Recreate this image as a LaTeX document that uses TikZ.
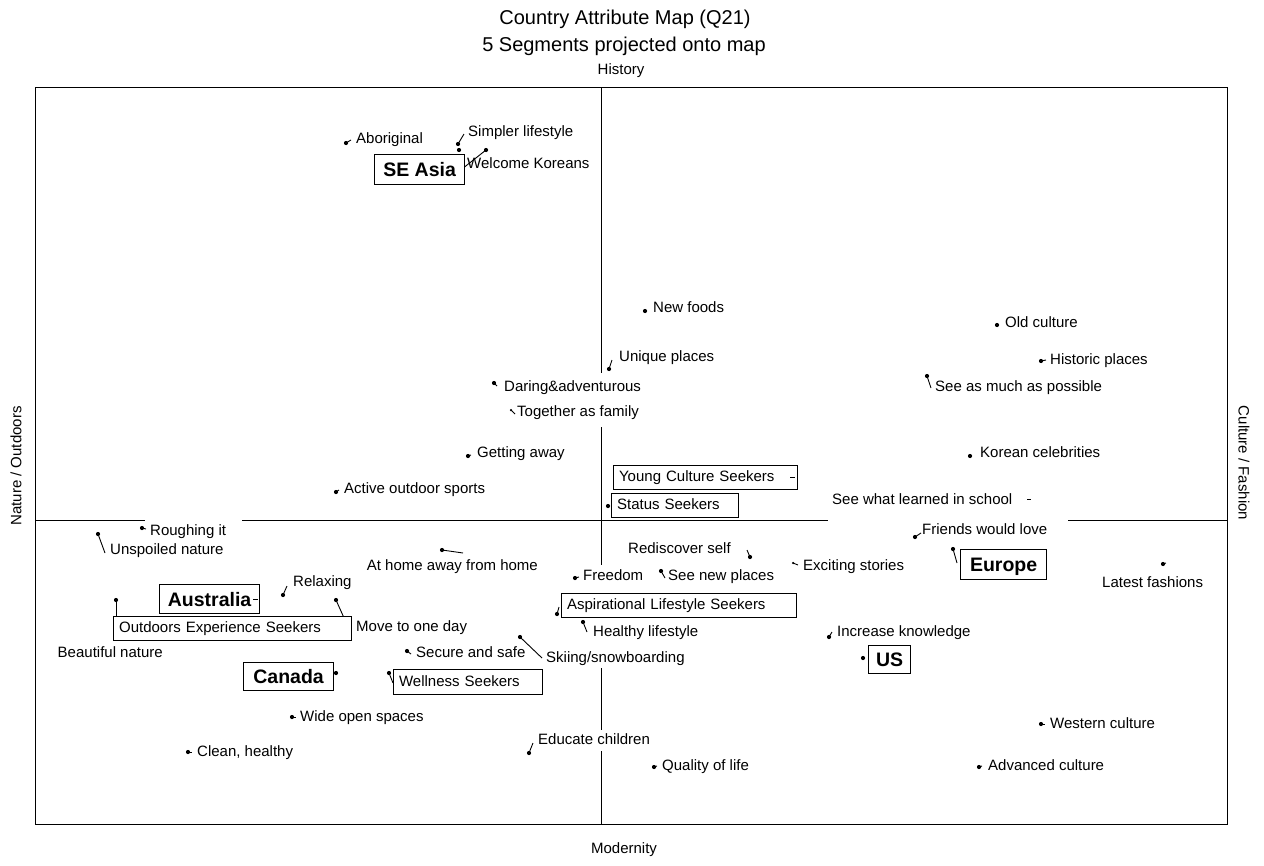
\documentclass[tikz,border=0pt]{standalone}
\usepackage{fontspec}
\setmainfont{Liberation Sans}
\begin{document}
\begin{tikzpicture}[x=1pt,y=-1pt,
  lab/.style={font=\fontsize{15}{18}\selectfont, inner sep=0pt, text height=11pt, text depth=3pt, anchor=west},
  labe/.style={lab, anchor=east},
  axlab/.style={font=\fontsize{15}{18}\selectfont, inner sep=0pt},
  titl/.style={font=\fontsize{20}{24}\selectfont, inner sep=0pt},
  dotmark/.style={circle, fill=black, inner sep=0pt, minimum size=4.2pt},
  smalldot/.style={circle, fill=black, inner sep=0pt, minimum size=2.5pt},
  leader/.style={line width=0.9pt},
  axisline/.style={line width=0.9pt},
  segbox/.style={draw, line width=1.2pt, fill=white, font=\fontsize{15}{18}\selectfont, anchor=north west, inner ysep=0pt, inner xsep=5.5pt, align=left, text height=11pt, text depth=3pt, minimum height=24pt},
  ctrybox/.style={draw, line width=1.2pt, fill=white, font=\bfseries\fontsize{19.5}{22}\selectfont, anchor=north west, inner sep=0pt, align=center, text height=14pt, text depth=0pt}
]
\useasboundingbox (0,0) rectangle (1264,865);

% titles and axis labels
\node[titl] (t1) at (625,19) {Country Attribute Map (Q21)};
\node[titl] (t2) at (624,46) {5 Segments projected onto map};
\node[axlab] (hist) at (621,71) {History};
\node[axlab] (mod) at (624,850) {Modernity};
\node[axlab, rotate=90] (nat) at (16,466) {Nature / Outdoors};
\node[axlab, rotate=-90] (cul) at (1244,463) {Culture / Fashion};

% frame and axes
\draw[line width=1pt] (35,87) rectangle (1227,824);
\draw[axisline] (35,520) -- (145,520);
\draw[axisline] (242,520) -- (828,520);
\draw[axisline] (1068,520) -- (1227,520);
\draw[axisline] (601,87) -- (601,373);
\draw[axisline] (601,427) -- (601,565);
\draw[axisline] (601,668) -- (601,730);
\draw[axisline] (601,751) -- (601,824);

% dots
\node[dotmark] (dAbo) at (346,143) {};
\node[dotmark] (dSim) at (458,144) {};
\node[dotmark] (dSEA) at (459,150) {};
\node[dotmark] (dWel) at (486,150) {};
\node[dotmark] (dNew) at (645,311) {};
\node[dotmark] (dUni) at (609,369) {};
\node[dotmark] (dDar) at (494,383) {};
\node[smalldot] (dTog) at (511,410) {};
\node[dotmark] (dGet) at (468,456) {};
\node[dotmark] (dAct) at (336,492) {};
\node[dotmark] (dOld) at (997,325) {};
\node[dotmark] (dHis) at (1041,361) {};
\node[dotmark] (dSee) at (927,376) {};
\node[dotmark] (dKor) at (970,456) {};
\node[dotmark] (dSta) at (608,506) {};
\node[dotmark] (dRou) at (142,528) {};
\node[dotmark] (dUns) at (98,534) {};
\node[dotmark] (dHom) at (442,550) {};
\node[dotmark] (dRed) at (750,557) {};
\node[smalldot] (dExc) at (793,563) {};
\node[dotmark] (dFre) at (575,578) {};
\node[dotmark] (dSnp) at (661,571) {};
\node[dotmark] (dFri) at (915,537) {};
\node[dotmark] (dEur) at (953,549) {};
\node[dotmark] (dLat) at (1163,564) {};
\node[dotmark] (dInc) at (829,637) {};
\node[dotmark] (dUS) at (863,658) {};
\node[dotmark] (dAsp) at (557,614) {};
\node[dotmark] (dHea) at (583,622) {};
\node[dotmark] (dRel) at (283,595) {};
\node[dotmark] (dBea) at (116,600) {};
\node[dotmark] (dMov) at (336,600) {};
\node[dotmark] (dCan) at (336,673) {};
\node[dotmark] (dSec) at (407,651) {};
\node[dotmark] (dSki) at (520,637) {};
\node[dotmark] (dWell) at (389,673) {};
\node[dotmark] (dWid) at (292,717) {};
\node[dotmark] (dCle) at (188,752) {};
\node[dotmark] (dEdu) at (529,753) {};
\node[dotmark] (dQua) at (654,767) {};
\node[dotmark] (dAdv) at (979,767) {};
\node[dotmark] (dWes) at (1041,724) {};

% leader end points
\coordinate (eAbo) at (351,140);
\coordinate (eSim) at (464,134);
\coordinate (eWel) at (462,169);
\coordinate (eUni) at (612,360);
\coordinate (eDar) at (497,386);
\coordinate (eTog) at (515,414);
\coordinate (eGet) at (471,455);
\coordinate (eAct) at (339,490);
\coordinate (eHis) at (1046,360);
\coordinate (eSee) at (931,388);
\coordinate (eRou) at (146,529);
\coordinate (eUns) at (105,553);
\coordinate (eHom) at (463,553);
\coordinate (eRed) at (747,550);
\coordinate (eExc) at (798,565);
\coordinate (eFre) at (579,577);
\coordinate (eSnp) at (665,578);
\coordinate (eFri) at (921,533);
\coordinate (eEur) at (957,563);
\coordinate (eLat) at (1166,563);
\coordinate (eInc) at (832,632);
\coordinate (eAsp) at (559,607);
\coordinate (eHea) at (587,632);
\coordinate (eRel) at (287,586);
\coordinate (eBea) at (116,641);
\coordinate (eMov) at (349,629);
\coordinate (eSec) at (411,654);
\coordinate (eSki) at (542,658);
\coordinate (eWell) at (393,683);
\coordinate (eWid) at (296,717);
\coordinate (eCle) at (192,752);
\coordinate (eEdu) at (533,743);
\coordinate (eQua) at (657,766);
\coordinate (eAdv) at (982,766);
\coordinate (eWes) at (1045,724);

\foreach \n in {Abo,Sim,Wel,Uni,Dar,Tog,Get,Act,His,See,Rou,Uns,Hom,Red,Exc,Fre,Snp,Fri,Eur,Lat,Inc,Asp,Hea,Rel,Bea,Mov,Sec,Ski,Well,Wid,Cle,Edu,Qua,Adv,Wes}
  \draw[leader] (d\n.center) -- (e\n);

% attribute labels
\node[lab] (lAbo) at (356,139) {Aboriginal};
\node[lab] (lSim) at (468,132) {Simpler lifestyle};
\node[lab] (lWel) at (467,164) {Welcome Koreans};
\node[lab] (lNew) at (653,308) {New foods};
\node[lab] (lUni) at (619,357) {Unique places};
\node[lab] (lDar) at (504,387) {Daring\&adventurous};
\node[lab] (lTog) at (517,412) {Together as family};
\node[lab] (lGet) at (477,453) {Getting away};
\node[lab] (lAct) at (344,489) {Active outdoor sports};
\node[lab] (lOld) at (1005,323) {Old culture};
\node[lab] (lHis) at (1050,360) {Historic places};
\node[lab] (lSee) at (935,387) {See as much as possible};
\node[lab] (lKor) at (980,453) {Korean celebrities};
\node[lab] (lSch) at (832,500) {See what learned in school};
\node[lab] (lRou) at (150,531) {Roughing it};
\node[lab] (lUns) at (110,550) {Unspoiled nature};
\node[labe] (lHom) at (538,566) {At home away from home};
\node[lab] (lRed) at (628,549) {Rediscover self};
\node[lab] (lExc) at (803,566) {Exciting stories};
\node[lab] (lFre) at (583,576) {Freedom};
\node[lab] (lSnp) at (668,576) {See new places};
\node[lab] (lFri) at (922,530) {Friends would love};
\node[lab] (lLat) at (1102,583) {Latest fashions};
\node[lab] (lInc) at (837,632) {Increase knowledge};
\node[lab] (lHea) at (593,632) {Healthy lifestyle};
\node[lab] (lRel) at (293,582) {Relaxing};
\node[labe] (lBea) at (163,653) {Beautiful nature};
\node[lab] (lMov) at (356,627) {Move to one day};
\node[lab] (lSec) at (416,653) {Secure and safe};
\node[lab] (lSki) at (546,658) {Skiing/snowboarding};
\node[lab] (lWid) at (300,717) {Wide open spaces};
\node[lab] (lCle) at (197,752) {Clean, healthy};
\node[lab] (lEdu) at (538,740) {Educate children};
\node[lab] (lQua) at (662,766) {Quality of life};
\node[lab] (lAdv) at (988,766) {Advanced culture};
\node[lab] (lWes) at (1050,724) {Western culture};

% segment boxes
\node[segbox, text width=173pt] (bYou) at (613,465) {Young Culture Seekers};
\node[segbox, text width=116pt] (bSta) at (611,493) {Status Seekers};
\node[segbox, text width=224pt] (bAsp) at (561,593) {Aspirational Lifestyle Seekers};
\node[segbox, text width=227pt] (bOut) at (113,616) {Outdoors Experience Seekers};
\node[segbox, text width=138pt, minimum height=25pt] (bWel) at (393,669) {Wellness Seekers};

% country boxes
\node[ctrybox, minimum width=90pt, minimum height=30pt] (bSEA) at (374,154) {SE Asia};
\node[ctrybox, minimum width=100pt, minimum height=29pt] (bAus) at (159,584) {Australia};
\node[ctrybox, minimum width=86pt, minimum height=30pt] (bEur) at (960,549) {Europe};
\node[ctrybox, minimum width=90pt, minimum height=28pt] (bCan) at (243,662) {Canada};
\node[ctrybox, minimum width=42pt, minimum height=28pt] (bUS) at (868,645) {US};

% short leader stubs whose dots lie under boxes
\coordinate (sYou1) at (790,477); \coordinate (sYou2) at (795,477);
\coordinate (sAus1) at (253,599); \coordinate (sAus2) at (258,599);
\coordinate (sSch1) at (1027,499); \coordinate (sSch2) at (1031,499);
\draw[leader] (sYou1) -- (sYou2);
\draw[leader] (sAus1) -- (sAus2);
\draw[leader] (sSch1) -- (sSch2);
\end{tikzpicture}
\end{document}
